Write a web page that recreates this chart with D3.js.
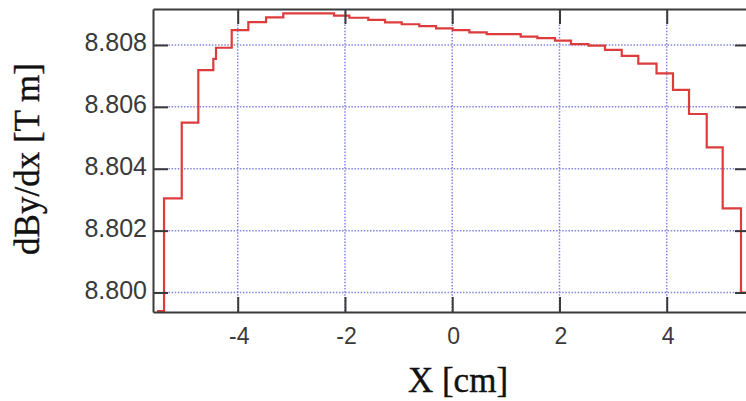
<!DOCTYPE html>
<html>
<head>
<meta charset="utf-8">
<script src="https://cdn.jsdelivr.net/npm/d3@7"></script>
<style>
  html, body { margin: 0; padding: 0; background: #fff; }
  svg { display: block; }
</style>
</head>
<body>
<svg id="chart" width="746" height="401"></svg>
<script>
// Bin edges along X [cm] and the field-gradient value held over each bin
const binEdges = [-5.505, -5.374, -5.044, -4.735, -4.455, -4.405, -4.112, -3.802, -3.472, -3.150,
                  -2.204, -1.919, -1.565, -1.253, -0.942, -0.614, -0.302, 0.009, 0.319, 0.643,
                  1.277, 1.587, 1.917, 2.215, 2.542, 2.849, 3.161, 3.470, 3.810, 4.117,
                  4.416, 4.746, 5.044, 5.385, 5.553];
const binValues = [8.79940, 8.80304, 8.80549, 8.80719, 8.80755, 8.80791, 8.80848, 8.80874, 8.80889, 8.80902,
                   8.80895, 8.80888, 8.80881, 8.80873, 8.80867, 8.80861, 8.80854, 8.80848, 8.80841, 8.80835,
                   8.80827, 8.80822, 8.80814, 8.80803, 8.80798, 8.80784, 8.80765, 8.80740, 8.80708, 8.80655,
                   8.80577, 8.80469, 8.80272, 8.80000];
const xTicks = [-4, -2, 0, 2, 4];
const yTicks = [8.800, 8.802, 8.804, 8.806, 8.808];
const xDomain = [-5.58, 5.553];
const yDomain = [8.79937, 8.809163];
const xTitle = "X [cm]";
const yTitle = "dBy/dx [T m]";

const svg = d3.select("#chart");
const plot = { left: 153, right: 750, top: 9, bottom: 312 };

const x = d3.scaleLinear().domain(xDomain).range([plot.left, plot.right]);
const y = d3.scaleLinear().domain(yDomain).range([plot.bottom, plot.top]);

svg.append("defs").append("clipPath").attr("id", "plotClip")
  .append("rect")
  .attr("x", plot.left).attr("y", plot.top)
  .attr("width", plot.right - plot.left).attr("height", plot.bottom - plot.top);

// dotted grid
const grid = svg.append("g").attr("stroke", "#8484e2").attr("stroke-width", 1.5)
  .attr("stroke-dasharray", "1.5 1.6");
grid.selectAll("line.gx").data(xTicks).join("line")
  .attr("x1", d => x(d)).attr("x2", d => x(d))
  .attr("y1", plot.top).attr("y2", plot.bottom);
grid.selectAll("line.gy").data(yTicks).join("line")
  .attr("y1", d => y(d)).attr("y2", d => y(d))
  .attr("x1", plot.left).attr("x2", plot.right);

// stepped profile
const pts = binValues.map((v, i) => [binEdges[i], v]);
pts.push([binEdges[binEdges.length - 1], binValues[binValues.length - 1]]);
const line = d3.line().x(d => x(d[0])).y(d => y(d[1])).curve(d3.curveStepAfter);
svg.append("path")
  .attr("clip-path", "url(#plotClip)")
  .attr("d", line(pts))
  .attr("fill", "none")
  .attr("stroke", "#dc3c3c")
  .attr("stroke-width", 2.2);

// axes: ticks pointing inward on all four sides
const tickLen = 15;
const axisColor = "#3a3a3a";
const axBottom = svg.append("g").attr("transform", `translate(0,${plot.bottom})`)
  .call(d3.axisBottom(x).tickValues(xTicks).tickSizeInner(-tickLen).tickSizeOuter(0).tickPadding(tickLen + 12).tickFormat(d3.format("d")));
const axTop = svg.append("g").attr("transform", `translate(0,${plot.top})`)
  .call(d3.axisTop(x).tickValues(xTicks).tickSizeInner(-tickLen).tickSizeOuter(0).tickFormat(""));
const axLeft = svg.append("g").attr("transform", `translate(${plot.left},0)`)
  .call(d3.axisLeft(y).tickValues(yTicks).tickSizeInner(-tickLen).tickSizeOuter(0).tickPadding(6).tickFormat(d3.format(".3f")));
const axRight = svg.append("g").attr("transform", `translate(${plot.right},0)`)
  .call(d3.axisRight(y).tickValues(yTicks).tickSizeInner(-tickLen).tickSizeOuter(0).tickFormat(""));

[axBottom, axTop, axLeft, axRight].forEach(g => {
  g.select(".domain").attr("stroke", axisColor).attr("stroke-width", 2);
  g.selectAll(".tick line").attr("stroke", axisColor).attr("stroke-width", 2);
});

axBottom.selectAll(".tick text")
  .attr("font-family", "'Liberation Sans', Arial, sans-serif")
  .attr("font-size", 23)
  .attr("fill", "#3a3a3a")
  .attr("dy", "0.2em")
  .attr("x", 1);
axBottom.selectAll(".tick text").text(d => d < 0 ? "-" + Math.abs(d) : d);

axLeft.selectAll(".tick text")
  .attr("font-family", "'Liberation Sans', Arial, sans-serif")
  .attr("font-size", 25)
  .attr("fill", "#3a3a3a")
  .attr("dy", "0.22em")
  .attr("x", -6);

// axis titles
svg.append("text")
  .attr("x", 458).attr("y", 392)
  .attr("text-anchor", "middle")
  .attr("font-family", "'Liberation Serif', 'Times New Roman', serif")
  .attr("font-size", 35)
  .attr("fill", "#111")
  .attr("stroke", "#111")
  .attr("stroke-width", 0.4)
  .text(xTitle);

svg.append("text")
  .attr("transform", "translate(39,159) rotate(-90)")
  .attr("text-anchor", "middle")
  .attr("font-family", "'Liberation Serif', 'Times New Roman', serif")
  .attr("font-size", 35)
  .attr("fill", "#111")
  .attr("stroke", "#111")
  .attr("stroke-width", 0.4)
  .text(yTitle);
</script>
</body>
</html>
